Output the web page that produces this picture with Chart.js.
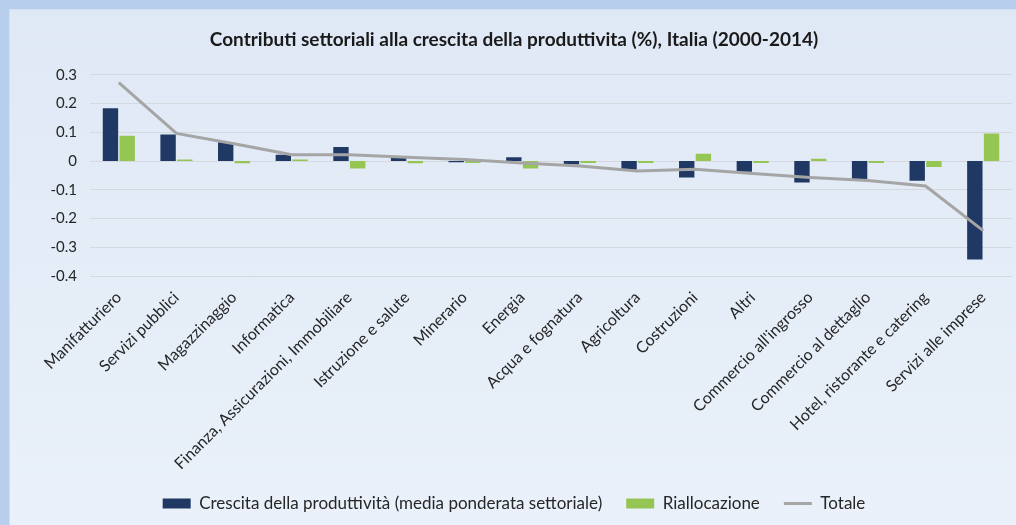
<!DOCTYPE html>
<html lang="it">
<head>
<meta charset="utf-8">
<title>Contributi settoriali alla crescita della produttivita</title>
<script src="https://cdn.jsdelivr.net/npm/chart.js@4.4.1/dist/chart.umd.min.js"></script>
<style>
  html, body { margin: 0; padding: 0; width: 1016px; height: 525px; overflow: hidden; background: #b7cfec; }
  #panel {
    position: absolute; left: 9px; top: 9px; width: 1007px; height: 516px;
    background: linear-gradient(#dfe8f5, #eaf1fa);
    border-top: 1px solid #d3e0f1; border-left: 1px solid #d3e0f1; box-sizing: border-box;
  }
  #box { position: absolute; left: 0; top: 0; width: 1016px; height: 522px; }
</style>
</head>
<body>
<div id="panel"></div>
<div id="box"><canvas id="chart"></canvas></div>
<script>
// settori (asse x)
const settori = [
  "Manifatturiero", "Servizi pubblici", "Magazzinaggio", "Informatica",
  "Finanza, Assicurazioni, Immobiliare", "Istruzione e salute", "Minerario", "Energia",
  "Acqua e fognatura", "Agricoltura", "Costruzioni", "Altri",
  "Commercio all'ingrosso", "Commercio al dettaglio", "Hotel, ristorante e catering", "Servizi alle imprese"
];

// valori (%)
const crescita = [0.184, 0.092, 0.065, 0.022, 0.049, 0.013, -0.004, 0.013,
  -0.012, -0.030, -0.057, -0.037, -0.075, -0.065, -0.069, -0.343];
const riallocazione = [0.088, 0.005, -0.008, 0.005, -0.026, -0.008, -0.007, -0.026,
  -0.007, -0.007, 0.025, -0.007, 0.008, -0.007, -0.021, 0.096];
const totale = [0.273, 0.096, 0.060, 0.022, 0.022, 0.013, 0.005, -0.007,
  -0.017, -0.035, -0.029, -0.043, -0.057, -0.068, -0.087, -0.242];

const FONT = "Lato, 'DejaVu Sans', sans-serif";
const TXT = "#262626";

new Chart(document.getElementById("chart"), {
  type: "bar",
  data: {
    labels: settori,
    datasets: [
      {
        label: "Crescita della produttività (media ponderata settoriale)",
        data: crescita,
        backgroundColor: "#1f3864",
        pointStyle: "rect",
        order: 1
      },
      {
        label: "Riallocazione",
        data: riallocazione,
        backgroundColor: "#95c653",
        pointStyle: "rect",
        order: 1
      },
      {
        type: "line",
        label: "Totale",
        data: totale,
        borderColor: "#a5a5a5",
        backgroundColor: "#a5a5a5",
        borderWidth: 3,
        pointRadius: 0,
        pointStyle: "line",
        tension: 0,
        order: 0
      }
    ]
  },
  options: {
    responsive: true,
    maintainAspectRatio: false,
    animation: false,
    categoryPercentage: 0.58,
    barPercentage: 0.92,
    layout: { padding: { left: 16, right: 4, top: 0, bottom: 0 } },
    plugins: {
      title: {
        display: true,
        text: "Contributi settoriali alla crescita della produttivita (%), Italia (2000-2014)",
        color: "#1a1a1a",
        font: { family: FONT, size: 19, weight: "bold" },
        padding: { top: 28, bottom: 24 }
      },
      legend: {
        position: "bottom",
        labels: {
          usePointStyle: true,
          pointStyleWidth: 28,
          boxHeight: 10,
          padding: 24,
          color: TXT,
          font: { family: FONT, size: 17 },
          sort: (a, b) => a.datasetIndex - b.datasetIndex
        }
      },
      tooltip: { enabled: false }
    },
    scales: {
      x: {
        grid: { display: false },
        border: { display: false },
        ticks: {
          autoSkip: false,
          minRotation: 45,
          maxRotation: 45,
          padding: 4,
          color: TXT,
          font: { family: FONT, size: 16 }
        },
        afterFit: s => { s.height = 195; }
      },
      y: {
        min: -0.4,
        max: 0.3,
        border: { display: false },
        grid: { color: "#d5d9df", drawTicks: false },
        ticks: {
          stepSize: 0.1,
          padding: 13,
          color: TXT,
          font: { family: FONT, size: 15 },
          callback: v => (Math.abs(v) < 1e-9 ? "0" : v.toFixed(1))
        },
        afterFit: s => { s.width = 74; }
      }
    }
  }
});
</script>
</body>
</html>
